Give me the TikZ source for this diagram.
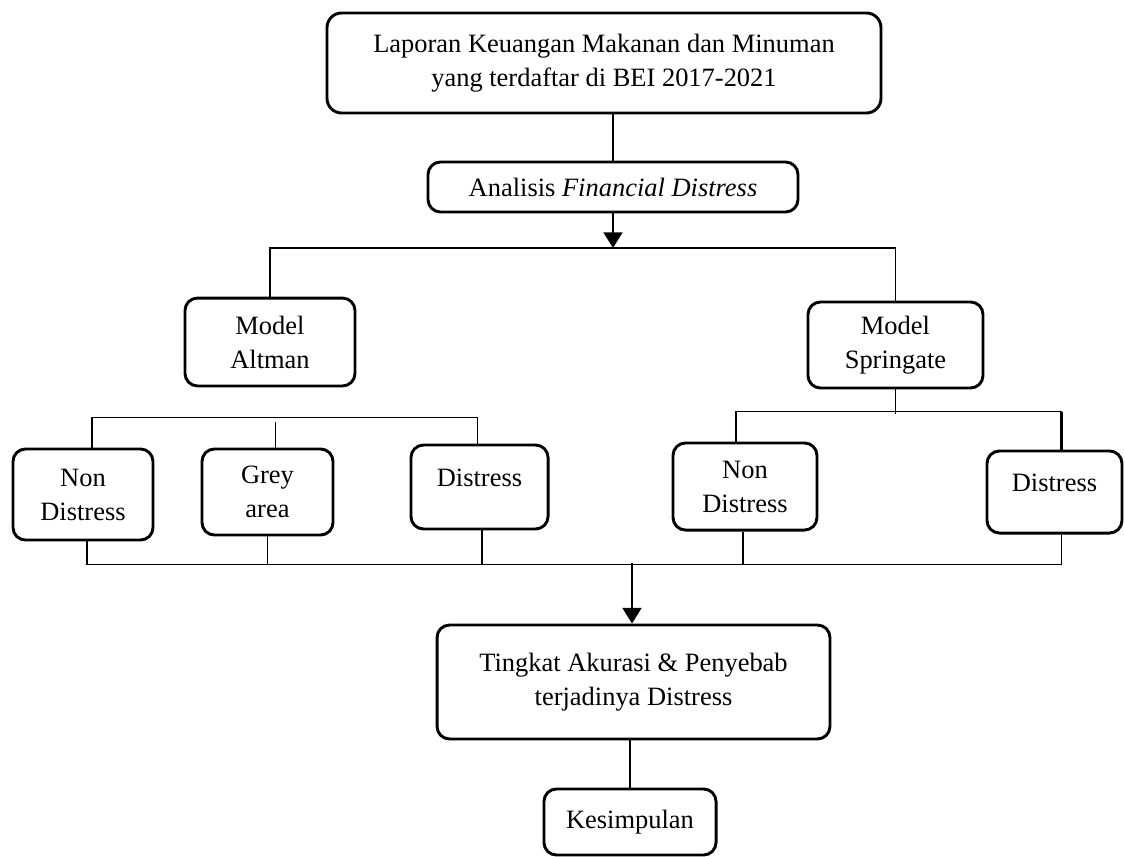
\documentclass[tikz,border=0pt]{standalone}
\usepackage{fontspec}
\setmainfont{Liberation Serif}
\usepackage{tikz}
\usetikzlibrary{
  arrows.meta,
  calc
}
\tikzset{
  flowbox/.style={
    draw=black,
    line width=1.4pt,
    rounded corners=6pt,
    inner sep=2pt,
    align=center,
    font=\fontsize{12.7pt}{16.3pt}\selectfont,
  },
  conn/.style={
    line width=1.2pt,
    draw=black,
  },
  midconn/.style={
    line width=0.9pt,
    draw=black,
  },
  thinconn/.style={
    line width=0.7pt,
    draw=black,
  },
  arr/.style={
    -{Triangle[length=7.5pt,width=9pt]},
    line width=1.2pt,
    draw=black,
  },
}

\begin{document}
\begin{tikzpicture}[
  x=0.48pt, y=-0.48pt,
]
  \useasboundingbox (0,0) rectangle (1125,857);

  % Row 1 --- source and analysis
  \node[flowbox, minimum width=265.9pt, minimum height=48pt, rounded corners=7pt] (lap) at (604,63)
    {Laporan Keuangan Makanan dan Minuman\\yang terdaftar di BEI 2017-2021};
  \node[flowbox, minimum width=177.6pt, minimum height=24pt] (ana) at (613,187)
    {Analisis \textit{Financial Distress}};

  \draw[conn] (lap.south -| ana.north) -- (ana.north);

  % Row 2 --- the two models
  \node[flowbox, minimum width=81.6pt, minimum height=42.2pt] (alt) at (270,342) {Model\\Altman};
  \node[flowbox, minimum width=84pt, minimum height=41.3pt] (spr) at (895.5,345) {Model\\Springate};

  \coordinate (hub) at (613,248);
  \draw[arr] (ana.south) -- (hub);
  \draw[midconn] (alt.north) |- (hub) -| (spr.north);

  % Row 3 --- Altman classes
  \node[flowbox, minimum width=67.2pt, minimum height=43.7pt] (ndl) at (83,494.5) {Non\\Distress};
  \node[flowbox, minimum width=62.9pt, minimum height=41.3pt] (gry) at (267.5,492) {Grey\\area};
  \node[flowbox, minimum width=65.8pt, minimum height=40.3pt, text depth=9pt] (dsl) at (479.5,487) {Distress};

  \draw[thinconn] ($(ndl.north)+(9,0)$) |- ($(dsl.north)+(-2,-26)$) -- ($(dsl.north)+(-2,0)$);
  \draw[thinconn] ($(gry.north)+(8,0)$) -- ++(0,-26);

  % Row 3 --- Springate classes
  \node[flowbox, minimum width=69.1pt, minimum height=41.8pt] (ndr) at (745,486.5) {Non\\Distress};
  \node[flowbox, minimum width=64.8pt, minimum height=39.4pt, text depth=9pt] (dsr) at (1054.5,492) {Distress};

  \draw[thinconn] (spr.south) -- ++(0,25);
  \draw[thinconn] ($(ndr.north)+(-9,0)$) |- ($(dsr.north)+(7,-38)$);
  \draw[conn] ($(dsr.north)+(7,-38)$) -- ($(dsr.north)+(7,0)$);

  % Row 4 --- merge into result
  \node[flowbox, minimum width=188.6pt, minimum height=54.7pt] (tkt) at (633.5,682)
    {Tingkat Akurasi \& Penyebab\\terjadinya Distress};
  \node[flowbox, minimum width=82.6pt, minimum height=31.7pt] (kes) at (630,822) {Kesimpulan};

  \coordinate (merge) at (632,563);
  \draw[thinconn] ($(ndl.south)+(4,0)$) |- ($(dsr.south)+(7,30)$) -- ($(dsr.south)+(7,0)$);
  \draw[thinconn] (gry.south) -- ++(0,28);
  \draw[thinconn] ($(dsl.south)+(2.5,0)$) -- ++(0,34);
  \draw[thinconn] ($(ndr.south)+(-2,0)$) -- ++(0,33);
  \draw[arr] (merge) -- (merge |- tkt.north);
  \draw[conn] (tkt.south -| kes.north) -- (kes.north);
\end{tikzpicture}
\end{document}
